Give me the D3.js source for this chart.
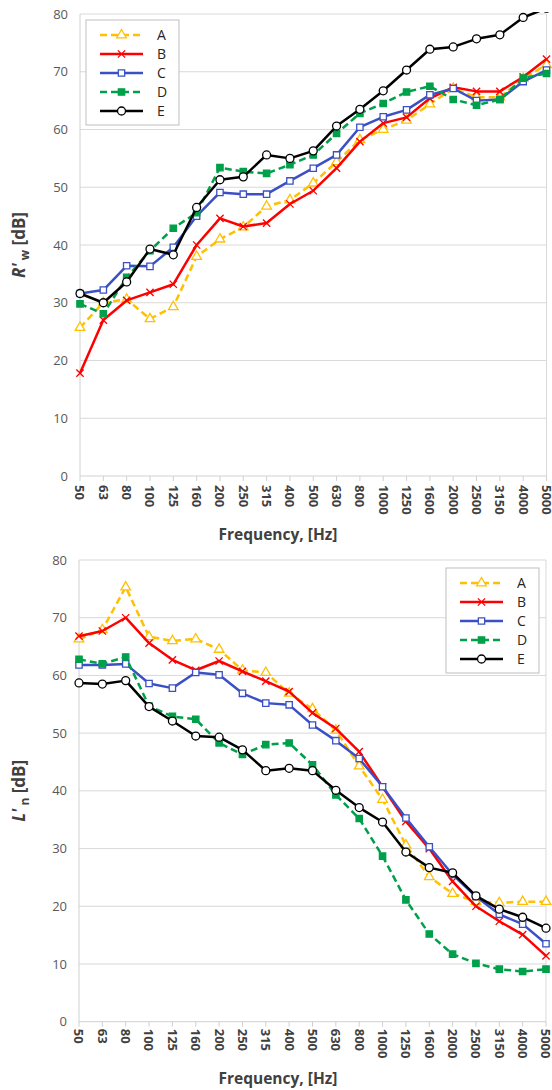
<!DOCTYPE html>
<html>
<head>
  <meta charset="utf-8">
  <script src="https://d3js.org/d3.v7.min.js"></script>
  <style>
    body { margin: 0; background: #fff; font-family: "Open Sans", Arial, sans-serif; }
    .grid line { stroke: #d9d9d9; stroke-width: 1; }
    .ytick { font-size: 13px; fill: #595959; }
    .xtick { font-size: 13px; font-weight: bold; fill: #404040; }
    .axis-title { font-size: 15.5px; font-weight: bold; fill: #404040; }
    .legend-label { font-size: 14px; fill: #262626; }
  </style>
</head>
<body>
<svg id="fig" width="552" height="1090"></svg>
<script>
  // category labels (1/3 octave bands)
  const freqs = ["50", "63", "80", "100", "125", "160", "200", "250", "315", "400", "500",
    "630", "800", "1000", "1250", "1600", "2000", "2500", "3150", "4000", "5000"];
  const seriesNames = ["A", "B", "C", "D", "E"];
  const yTicks = [0, 10, 20, 30, 40, 50, 60, 70, 80];

  // R'w values
  const rwA = [25.7, 30.0, 30.6, 27.2, 29.3, 38.0, 41.0, 43.1, 46.7, 47.8, 50.7, 54.4, 58.2, 60.0, 61.6, 64.4, 67.1, 65.6, 65.6, 68.8, 71.2];
  const rwB = [17.8, 27.0, 30.4, 31.8, 33.2, 40.0, 44.6, 43.2, 43.8, 47.1, 49.4, 53.3, 57.9, 61.1, 62.1, 65.4, 67.3, 66.6, 66.6, 69.1, 72.2];
  const rwC = [31.6, 32.2, 36.4, 36.3, 39.6, 45.0, 49.1, 48.8, 48.8, 51.1, 53.3, 55.6, 60.4, 62.2, 63.4, 66.0, 67.1, 65.0, 65.2, 68.3, 70.3];
  const rwD = [29.8, 28.1, 34.4, 39.0, 42.9, 45.6, 53.4, 52.7, 52.4, 53.9, 55.6, 59.3, 62.8, 64.5, 66.5, 67.5, 65.2, 64.2, 65.2, 68.9, 69.7];
  const rwE = [31.6, 30.0, 33.6, 39.3, 38.3, 46.5, 51.3, 51.8, 55.6, 55.0, 56.3, 60.6, 63.5, 66.7, 70.3, 73.9, 74.3, 75.7, 76.4, 79.4, 81.0];

  // L'n values
  const lnA = [66.3, 67.9, 75.3, 66.7, 66.0, 66.3, 64.5, 60.9, 60.5, 56.9, 54.2, 50.5, 44.3, 38.5, 30.6, 25.1, 22.2, 20.8, 20.6, 20.8, 20.8];
  const lnB = [66.8, 67.7, 70.0, 65.6, 62.7, 60.9, 62.5, 60.7, 59.0, 57.2, 53.5, 50.8, 46.8, 40.7, 34.7, 30.0, 24.3, 20.0, 17.4, 15.1, 11.4];
  const lnC = [61.8, 61.8, 62.0, 58.6, 57.8, 60.5, 60.1, 56.9, 55.2, 54.9, 51.4, 48.7, 45.6, 40.7, 35.3, 30.3, 25.5, 21.7, 18.6, 16.9, 13.5];
  const lnD = [62.8, 62.0, 63.2, 54.7, 52.9, 52.4, 48.3, 46.3, 48.0, 48.3, 44.5, 39.3, 35.2, 28.7, 21.1, 15.2, 11.7, 10.1, 9.1, 8.7, 9.1];
  const lnE = [58.7, 58.5, 59.1, 54.6, 52.1, 49.5, 49.3, 47.1, 43.5, 43.9, 43.5, 40.1, 37.1, 34.6, 29.4, 26.7, 25.8, 21.8, 19.5, 18.1, 16.2];

  // look of each series
  const styles = {
    A: { color: "#ffc000", dash: "7,4", symbol: d3.symbolTriangle, size: 40, fill: "#fff" },
    B: { color: "#ff0000", dash: null, symbol: d3.symbolTimes, size: 36, fill: "none" },
    C: { color: "#3a50c4", dash: null, symbol: d3.symbolSquare, size: 40, fill: "#fff" },
    D: { color: "#00a04a", dash: "7,4", symbol: d3.symbolSquare, size: 40, fill: "#00a04a" },
    E: { color: "#000000", dash: null, symbol: d3.symbolCircle, size: 50, fill: "#fff" }
  };

  const svg = d3.select("#fig");

  function drawChart(opts) {
    const g = svg.append("g");
    const x = d3.scalePoint().domain(freqs).range([opts.left, opts.right]).padding(0);
    const y = d3.scaleLinear().domain([0, 80]).range([opts.bottom, opts.top]);

    // clip so the E line stops at the plot top
    const clipId = "clip-" + opts.id;
    svg.append("clipPath").attr("id", clipId)
      .append("rect")
      .attr("x", 0).attr("y", opts.top - 2)
      .attr("width", 552).attr("height", opts.bottom - opts.top + 10);

    // gridlines
    g.append("g").attr("class", "grid")
      .selectAll("line").data(yTicks.slice(1)).join("line")
      .attr("x1", opts.left).attr("x2", opts.right)
      .attr("y1", d => y(d)).attr("y2", d => y(d));

    // plot border (right) and axes
    g.append("line").attr("x1", opts.right).attr("x2", opts.right)
      .attr("y1", opts.top).attr("y2", opts.bottom)
      .attr("stroke", "#d9d9d9");
    g.append("line").attr("x1", opts.left).attr("x2", opts.left)
      .attr("y1", opts.top).attr("y2", opts.bottom)
      .attr("stroke", "#d0d0d0");
    g.append("line").attr("x1", opts.left).attr("x2", opts.right)
      .attr("y1", opts.bottom).attr("y2", opts.bottom)
      .attr("stroke", "#d0d0d0");
    g.append("g").selectAll("line").data(freqs).join("line")
      .attr("x1", d => x(d)).attr("x2", d => x(d))
      .attr("y1", opts.bottom).attr("y2", opts.bottom + 5)
      .attr("stroke", "#d0d0d0");

    // y tick labels
    g.append("g").selectAll("text").data(yTicks).join("text")
      .attr("class", "ytick")
      .attr("x", opts.left - 12).attr("y", d => y(d))
      .attr("dy", "0.35em").attr("text-anchor", "end")
      .text(d => d);

    // x tick labels, rotated
    g.append("g").selectAll("text").data(freqs).join("text")
      .attr("class", "xtick")
      .attr("transform", d => `translate(${x(d)},${opts.bottom + opts.labelGap}) rotate(90)`)
      .attr("dy", "0.35em")
      .text(d => d);

    // axis titles
    g.append("text").attr("class", "axis-title")
      .attr("x", 278).attr("y", opts.xTitleY)
      .attr("text-anchor", "middle")
      .text("Frequency, [Hz]");

    const yt = g.append("text").attr("class", "axis-title")
      .attr("transform", `translate(25,${(opts.top + opts.bottom) / 2}) rotate(-90)`)
      .attr("text-anchor", "middle")
      .style("font-size", "17px");
    yt.append("tspan").attr("font-style", "italic").text(opts.yLetter + "'");
    yt.append("tspan").attr("dy", 4).style("font-size", "12px").text(" " + opts.ySub);
    yt.append("tspan").attr("dy", -4).text(" [dB]");

    // series
    const line = d3.line().x((d, i) => x(freqs[i])).y(d => y(d));
    const plot = g.append("g").attr("clip-path", `url(#${clipId})`);
    seriesNames.forEach((name, k) => {
      const st = styles[name];
      const vals = opts.data[k];
      plot.append("path")
        .attr("d", line(vals))
        .attr("fill", "none")
        .attr("stroke", st.color)
        .attr("stroke-width", 2.5)
        .attr("stroke-dasharray", st.dash)
        .attr("stroke-linejoin", "round");
      plot.append("g").selectAll("path").data(vals).join("path")
        .attr("transform", (d, i) => `translate(${x(freqs[i])},${y(d)})`)
        .attr("d", d3.symbol(st.symbol, st.size))
        .attr("fill", st.fill)
        .attr("stroke", st.color)
        .attr("stroke-width", 1.3);
    });

    // legend
    const lg = g.append("g").attr("transform", `translate(${opts.legendX},${opts.legendY})`);
    lg.append("rect").attr("width", 93).attr("height", 105)
      .attr("fill", "#fff").attr("stroke", "#bfbfbf");
    seriesNames.forEach((name, k) => {
      const st = styles[name];
      const row = lg.append("g").attr("transform", `translate(0,${15 + k * 19})`);
      row.append("line").attr("x1", 14).attr("x2", 57)
        .attr("stroke", st.color).attr("stroke-width", 2.5)
        .attr("stroke-dasharray", st.dash);
      row.append("path").attr("transform", "translate(35.5,0)")
        .attr("d", d3.symbol(st.symbol, st.size))
        .attr("fill", st.fill).attr("stroke", st.color).attr("stroke-width", 1.3);
      row.append("text").attr("class", "legend-label")
        .attr("x", 71).attr("dy", "0.35em").text(name);
    });
  }

  drawChart({
    id: "rw", top: 14, bottom: 476, left: 80, right: 546.5,
    labelGap: 9, xTitleY: 540, yLetter: "R", ySub: "w",
    legendX: 86, legendY: 20,
    data: [rwA, rwB, rwC, rwD, rwE]
  });

  drawChart({
    id: "ln", top: 560, bottom: 1021.7, left: 79, right: 546,
    labelGap: 7, xTitleY: 1084, yLetter: "L", ySub: "n",
    legendX: 446, legendY: 568,
    data: [lnA, lnB, lnC, lnD, lnE]
  });
</script>
</body>
</html>
